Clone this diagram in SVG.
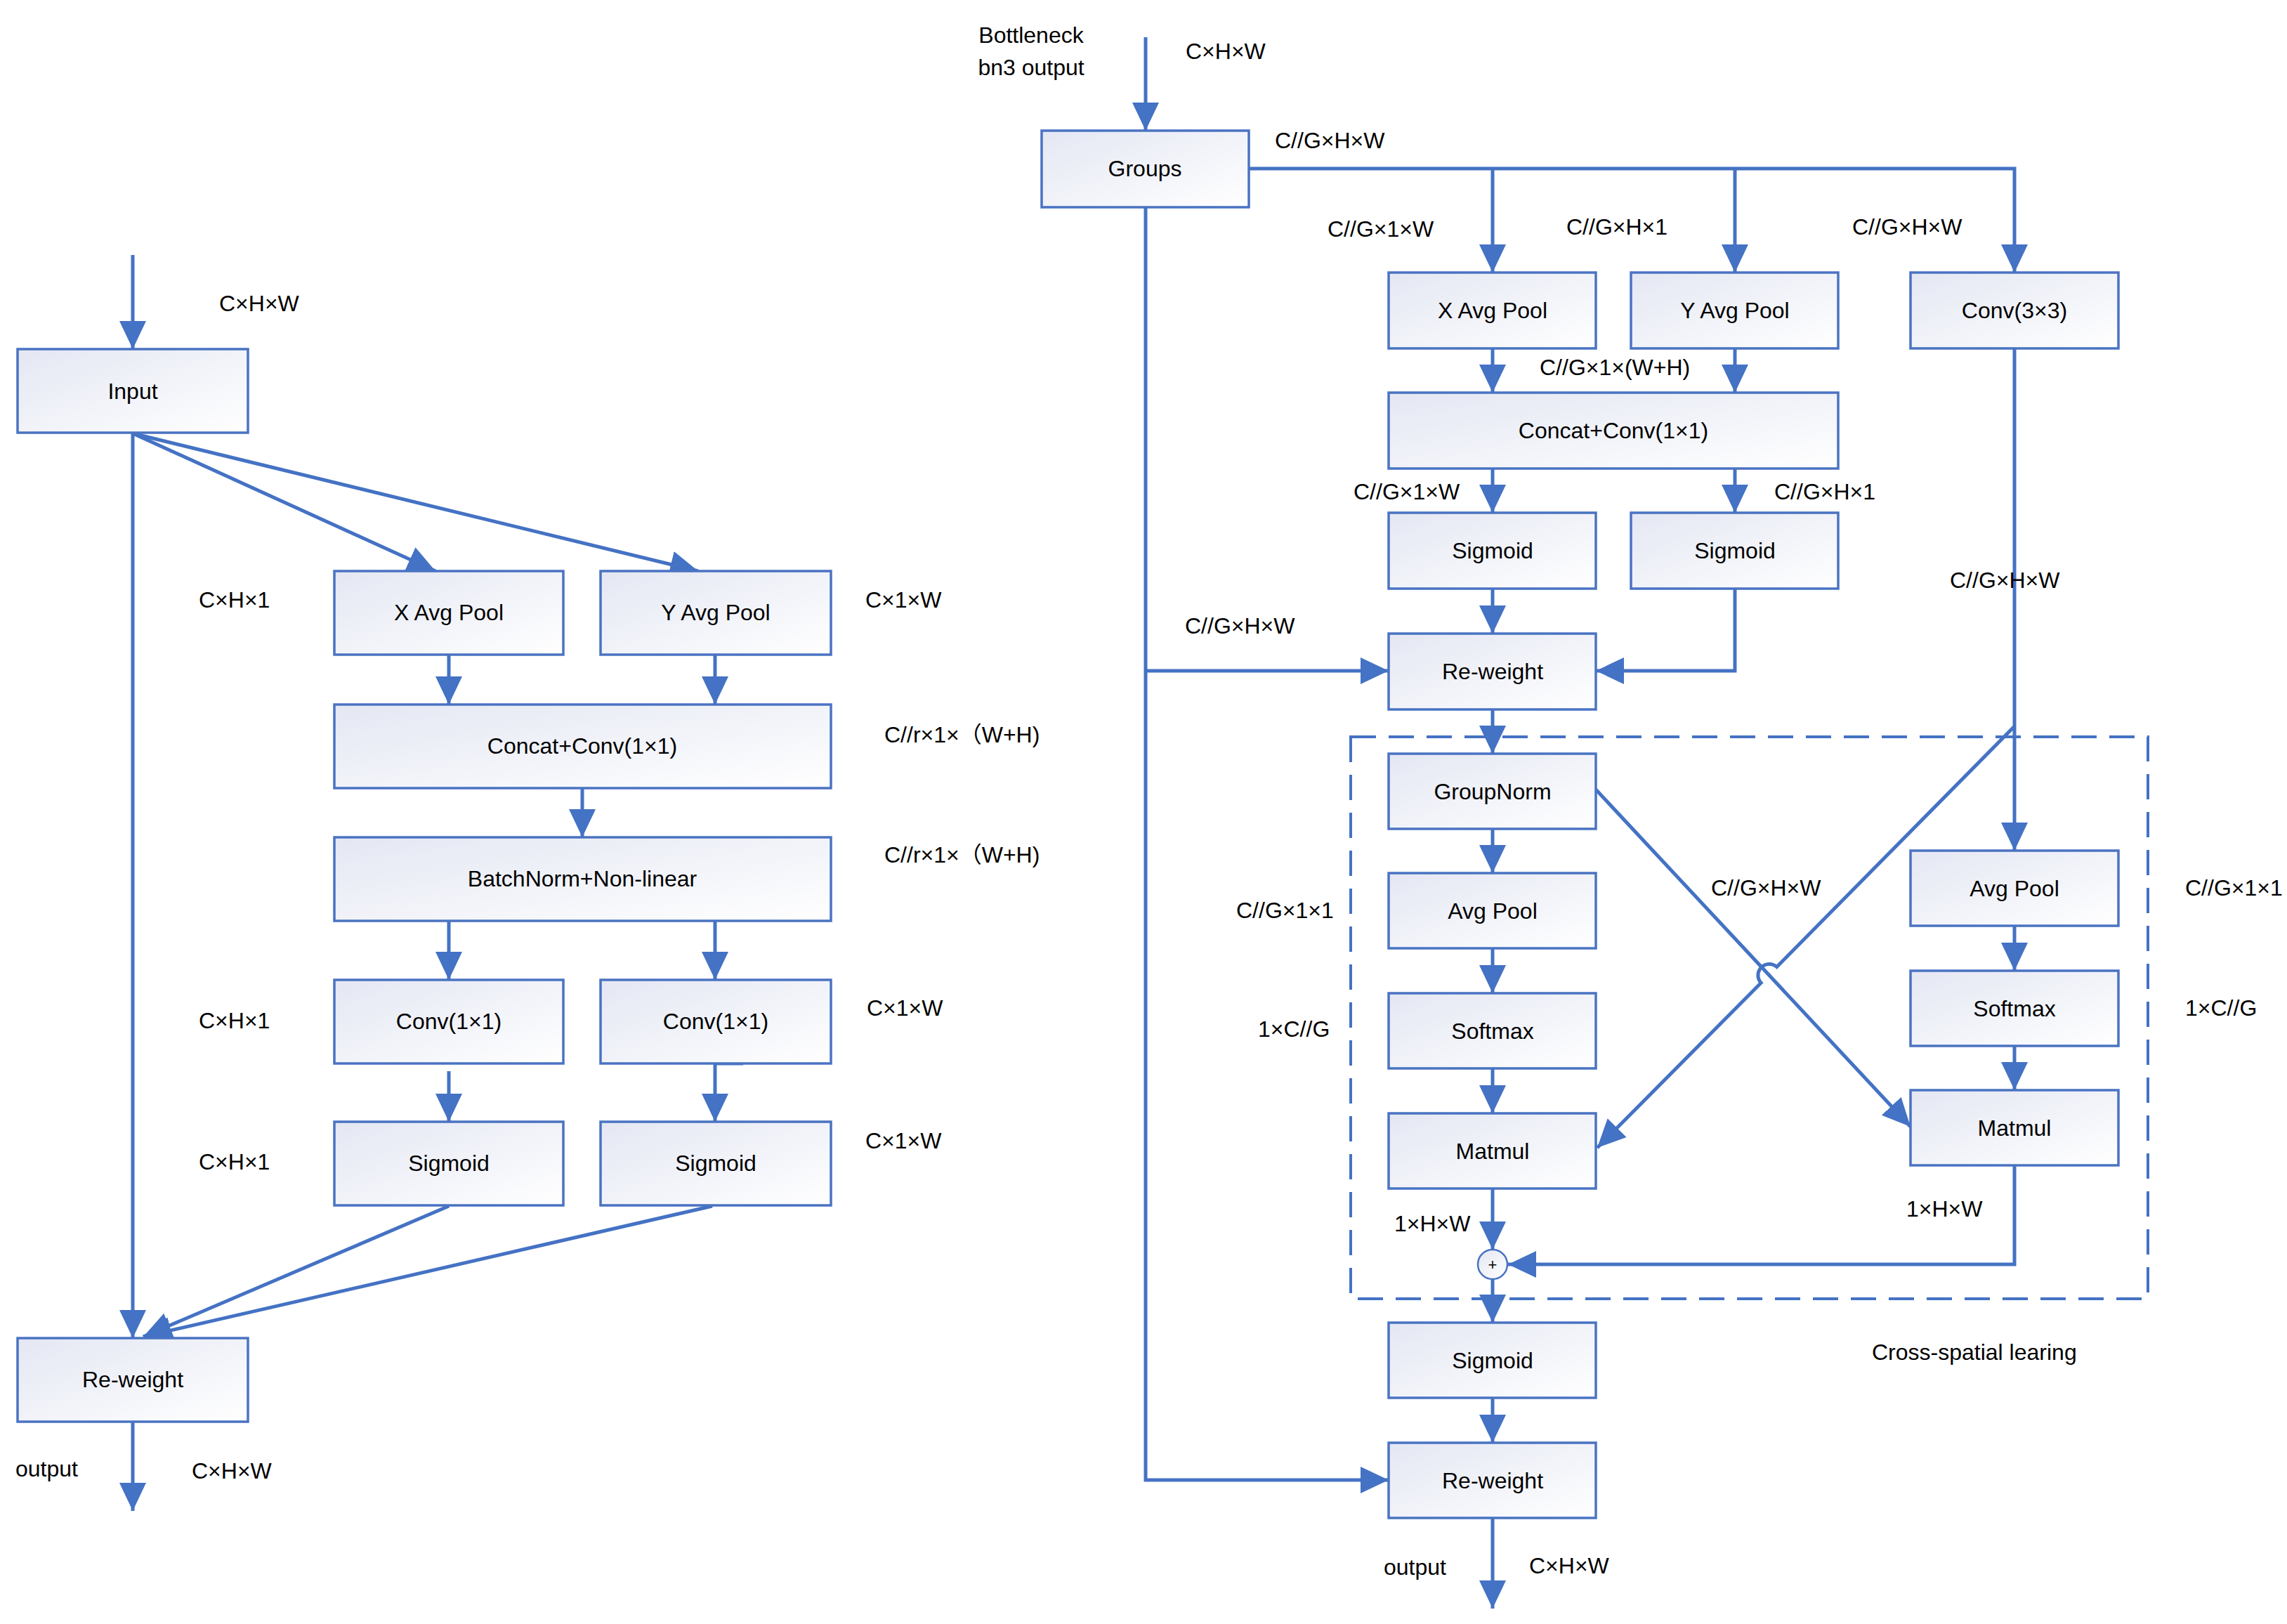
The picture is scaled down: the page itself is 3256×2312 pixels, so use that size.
<svg xmlns="http://www.w3.org/2000/svg" width="3256" height="2312" viewBox="0 0 3256 2312">
<defs>
<linearGradient id="g" x1="0" y1="0" x2="1" y2="1">
<stop offset="0" stop-color="#E4E7F3"/>
<stop offset="1" stop-color="#FFFFFF"/>
</linearGradient>
<marker id="ah" markerUnits="userSpaceOnUse" markerWidth="40" markerHeight="38" refX="40" refY="19" orient="auto" viewBox="0 0 40 38">
<path d="M0,0 L40,19 L0,38 z" fill="#4472C4"/>
</marker>
</defs>
<style>
text{font-family:"Liberation Sans","Noto Sans CJK SC",sans-serif;font-size:32px;fill:#000}
.node rect{fill:url(#g);stroke:#4A73C2;stroke-width:3.5}
.node text{text-anchor:middle}
.conn path,.conn line{stroke:#4472C4;stroke-width:5;fill:none}
.conn .a{marker-end:url(#ah)}
.dash{fill:none;stroke:#4472C4;stroke-width:4;stroke-dasharray:36 18}
</style>
<rect width="3256" height="2312" fill="#fff"/>

<!-- LEFT DIAGRAM -->
<g class="conn" id="conn-left">
<line class="a" x1="189" y1="363" x2="189" y2="497"/>
<line class="a" x1="189" y1="617" x2="189" y2="1905"/>
<line class="a" x1="189" y1="617" x2="620" y2="813"/>
<line class="a" x1="189" y1="617" x2="994" y2="813"/>
<line class="a" x1="639" y1="932" x2="639" y2="1003"/>
<line class="a" x1="1018" y1="932" x2="1018" y2="1003"/>
<line class="a" x1="829" y1="1122" x2="829" y2="1192"/>
<line class="a" x1="639" y1="1311" x2="639" y2="1395"/>
<line class="a" x1="1018" y1="1311" x2="1018" y2="1395"/>
<line class="a" x1="639" y1="1525" x2="639" y2="1597"/>
<line class="a" x1="1018" y1="1514" x2="1018" y2="1597"/>
<line x1="1018" y1="1514" x2="1058" y2="1514"/>
<line class="a" x1="639" y1="1717" x2="204" y2="1903"/>
<line class="a" x1="1014" y1="1717" x2="204" y2="1903"/>
<line class="a" x1="189" y1="2025" x2="189" y2="2151"/>
</g>

<g class="node" id="l-input"><rect x="25" y="497" width="328" height="119"/><text x="189" y="568">Input</text></g>
<g class="node" id="l-xavg"><rect x="476" y="813" width="326" height="119"/><text x="639" y="883">X Avg Pool</text></g>
<g class="node" id="l-yavg"><rect x="855" y="813" width="328" height="119"/><text x="1019" y="883">Y Avg Pool</text></g>
<g class="node" id="l-concat"><rect x="476" y="1003" width="707" height="119"/><text x="829" y="1073">Concat+Conv(1×1)</text></g>
<g class="node" id="l-bn"><rect x="476" y="1192" width="707" height="119"/><text x="829" y="1262">BatchNorm+Non-linear</text></g>
<g class="node" id="l-conv1"><rect x="476" y="1395" width="326" height="119"/><text x="639" y="1465">Conv(1×1)</text></g>
<g class="node" id="l-conv2"><rect x="855" y="1395" width="328" height="119"/><text x="1019" y="1465">Conv(1×1)</text></g>
<g class="node" id="l-sig1"><rect x="476" y="1597" width="326" height="119"/><text x="639" y="1667">Sigmoid</text></g>
<g class="node" id="l-sig2"><rect x="855" y="1597" width="328" height="119"/><text x="1019" y="1667">Sigmoid</text></g>
<g class="node" id="l-rew"><rect x="25" y="1905" width="328" height="119"/><text x="189" y="1975">Re-weight</text></g>

<g id="labels-left">
<text x="312" y="443">C×H×W</text>
<text x="283" y="865">C×H×1</text>
<text x="1232" y="865">C×1×W</text>
<text x="1259" y="1057">C//r×1×（W+H)</text>
<text x="1259" y="1228">C//r×1×（W+H)</text>
<text x="283" y="1464">C×H×1</text>
<text x="1234" y="1446">C×1×W</text>
<text x="283" y="1665">C×H×1</text>
<text x="1232" y="1635">C×1×W</text>
<text x="22" y="2102">output</text>
<text x="273" y="2105">C×H×W</text>
</g>

<!-- RIGHT DIAGRAM -->
<rect class="dash" x="1923" y="1049" width="1135" height="800"/>

<g class="conn" id="conn-right">
<line class="a" x1="1631" y1="53" x2="1631" y2="186"/>
<path class="a" d="M1631,295 L1631,2107 L1977,2107"/>
<line class="a" x1="1631" y1="955" x2="1977" y2="955"/>
<path class="a" d="M1778,240 L2868,240 L2868,388"/>
<line class="a" x1="2125" y1="240" x2="2125" y2="388"/>
<line class="a" x1="2470" y1="240" x2="2470" y2="388"/>
<line class="a" x1="2125" y1="496" x2="2125" y2="559"/>
<line class="a" x1="2470" y1="496" x2="2470" y2="559"/>
<line class="a" x1="2125" y1="667" x2="2125" y2="730"/>
<line class="a" x1="2470" y1="667" x2="2470" y2="730"/>
<line class="a" x1="2125" y1="838" x2="2125" y2="902"/>
<path class="a" d="M2470,838 L2470,955 L2272,955"/>
<line class="a" x1="2125" y1="1010" x2="2125" y2="1073"/>
<line class="a" x1="2868" y1="496" x2="2868" y2="1211"/>
<line class="a" x1="2125" y1="1180" x2="2125" y2="1243"/>
<line class="a" x1="2125" y1="1350" x2="2125" y2="1414"/>
<line class="a" x1="2125" y1="1521" x2="2125" y2="1585"/>
<line class="a" x1="2125" y1="1692" x2="2125" y2="1779"/>
<line class="a" x1="2868" y1="1318" x2="2868" y2="1382"/>
<line class="a" x1="2868" y1="1489" x2="2868" y2="1552"/>
<path class="a" d="M2868,1659 L2868,1800 L2147,1800"/>
<line class="a" x1="2125" y1="1821" x2="2125" y2="1883"/>
<line class="a" x1="2125" y1="1990" x2="2125" y2="2054"/>
<line class="a" x1="2125" y1="2161" x2="2125" y2="2290"/>
<line class="a" x1="2272" y1="1124" x2="2720" y2="1604"/>
<path class="a" d="M2868,1034 L2529.6,1376.5 A16,16 0 0 0 2507.2,1399.3 L2274,1634"/>
</g>

<g class="node" id="r-groups"><rect x="1483" y="186" width="295" height="109"/><text x="1630" y="251">Groups</text></g>
<g class="node" id="r-xavg"><rect x="1977" y="388" width="295" height="108"/><text x="2125" y="453">X Avg Pool</text></g>
<g class="node" id="r-yavg"><rect x="2322" y="388" width="295" height="108"/><text x="2470" y="453">Y Avg Pool</text></g>
<g class="node" id="r-conv3"><rect x="2720" y="388" width="296" height="108"/><text x="2868" y="453">Conv(3×3)</text></g>
<g class="node" id="r-concat"><rect x="1977" y="559" width="640" height="108"/><text x="2297" y="624">Concat+Conv(1×1)</text></g>
<g class="node" id="r-sig1"><rect x="1977" y="730" width="295" height="108"/><text x="2125" y="795">Sigmoid</text></g>
<g class="node" id="r-sig2"><rect x="2322" y="730" width="295" height="108"/><text x="2470" y="795">Sigmoid</text></g>
<g class="node" id="r-rew1"><rect x="1977" y="902" width="295" height="108"/><text x="2125" y="967">Re-weight</text></g>
<g class="node" id="r-gn"><rect x="1977" y="1073" width="295" height="107"/><text x="2125" y="1138">GroupNorm</text></g>
<g class="node" id="r-avgL"><rect x="1977" y="1243" width="295" height="107"/><text x="2125" y="1308">Avg Pool</text></g>
<g class="node" id="r-smL"><rect x="1977" y="1414" width="295" height="107"/><text x="2125" y="1479">Softmax</text></g>
<g class="node" id="r-mmL"><rect x="1977" y="1585" width="295" height="107"/><text x="2125" y="1650">Matmul</text></g>
<g class="node" id="r-avgR"><rect x="2720" y="1211" width="296" height="107"/><text x="2868" y="1276">Avg Pool</text></g>
<g class="node" id="r-smR"><rect x="2720" y="1382" width="296" height="107"/><text x="2868" y="1447">Softmax</text></g>
<g class="node" id="r-mmR"><rect x="2720" y="1552" width="296" height="107"/><text x="2868" y="1617">Matmul</text></g>
<g class="node" id="r-plus"><circle cx="2125" cy="1800" r="21" fill="url(#g)" stroke="#4A73C2" stroke-width="2.5"/><text x="2125" y="1808" style="font-size:22px">+</text></g>
<g class="node" id="r-sig3"><rect x="1977" y="1883" width="295" height="107"/><text x="2125" y="1948">Sigmoid</text></g>
<g class="node" id="r-rew2"><rect x="1977" y="2054" width="295" height="107"/><text x="2125" y="2119">Re-weight</text></g>

<g id="labels-right">
<text x="1468" y="61" text-anchor="middle">Bottleneck</text>
<text x="1468" y="107" text-anchor="middle">bn3 output</text>
<text x="1688" y="84">C×H×W</text>
<text x="1815" y="211">C//G×H×W</text>
<text x="1890" y="337">C//G×1×W</text>
<text x="2230" y="334">C//G×H×1</text>
<text x="2637" y="334">C//G×H×W</text>
<text x="2192" y="534">C//G×1×(W+H)</text>
<text x="1927" y="711">C//G×1×W</text>
<text x="2526" y="711">C//G×H×1</text>
<text x="1687" y="902">C//G×H×W</text>
<text x="2776" y="837">C//G×H×W</text>
<text x="1760" y="1307">C//G×1×1</text>
<text x="2436" y="1275">C//G×H×W</text>
<text x="3111" y="1275">C//G×1×1</text>
<text x="1791" y="1476">1×C//G</text>
<text x="3111" y="1446">1×C//G</text>
<text x="1985" y="1753">1×H×W</text>
<text x="2714" y="1732">1×H×W</text>
<text x="1970" y="2242">output</text>
<text x="2177" y="2240">C×H×W</text>
<text x="2665" y="1936">Cross-spatial learing</text>
</g>
</svg>
